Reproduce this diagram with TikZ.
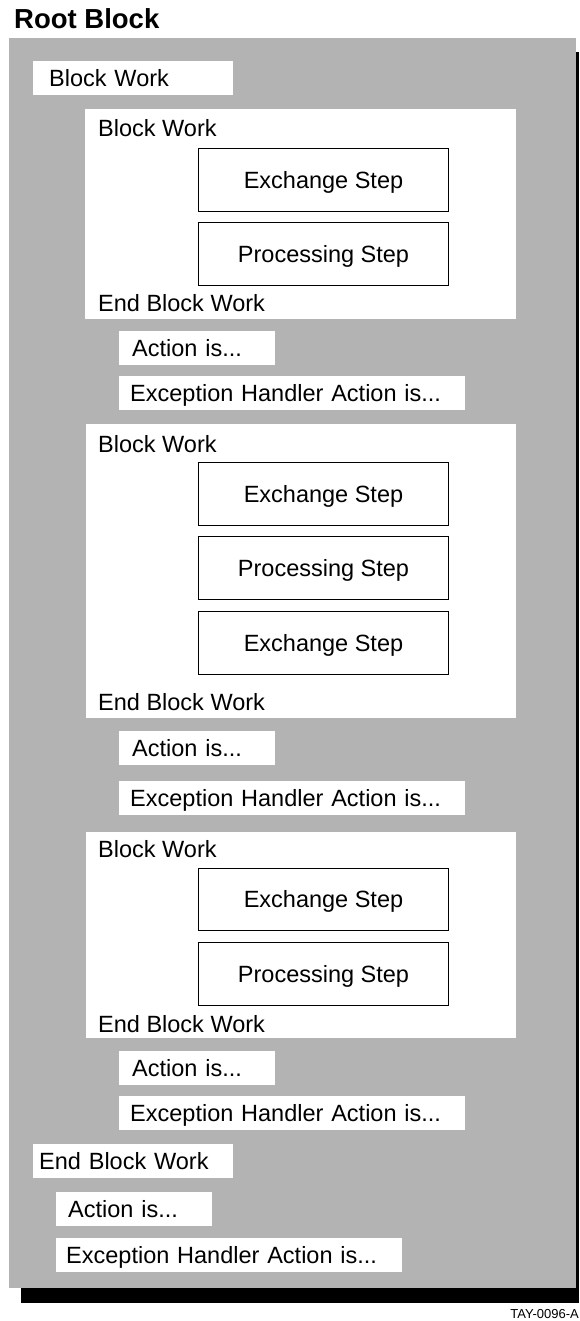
\documentclass[tikz,border=0pt]{standalone}
\usepackage{fontspec}
\setmainfont{Liberation Sans}
\definecolor{panelgray}{RGB}{179,179,179}
\begin{document}
\begin{tikzpicture}[x=1pt,y=-1pt,
  body/.style={font=\fontsize{23.5}{28}\selectfont, text height=16.8pt, text depth=0pt},
  wbox/.style={body, fill=white, draw=none, anchor=north west, inner ysep=0pt, align=left, minimum height=34pt},
  container/.style={fill=white, draw=none, anchor=north west, inner sep=0pt},
  stepbox/.style={body, fill=white, draw=black, line width=1pt, anchor=north west, inner sep=0pt, minimum width=250pt, align=center},
  lbl/.style={body, anchor=base west, inner sep=0pt}
]
\useasboundingbox (0,0) rectangle (579,1321);
% title
\node[font=\bfseries\fontsize{27.5}{32}\selectfont, anchor=base west, inner sep=0pt] (title) at (14,28.7) {Root Block};
% shadow and panel
\fill[black] (21,52) rectangle (579,1303);
\node[fill=panelgray, anchor=north west, inner sep=0pt, minimum width=567pt, minimum height=1250pt] (root) at (9,38) {};

% outer Block Work
\node[wbox, text width=168pt, inner xsep=16pt] (bw0) at (33,61) {Block Work};

% ---- block 1
\node[container, minimum width=431pt, minimum height=210pt] (blk1) at (85,109) {};
\node[lbl] (blk1t) at (98,137) {Block Work};
\node[stepbox, minimum height=63pt] (ex1) at (198,148) {Exchange Step};
\node[stepbox, minimum height=63pt] (pr1) at (198,222) {Processing Step};
\node[lbl] (blk1e) at (98,312) {End Block Work};
\node[wbox, text width=130pt, inner xsep=13pt] (ac1) at (119,331) {Action is...};
\node[wbox, text width=324pt, inner xsep=11pt] (eh1) at (119,376) {Exception Handler Action is...};

% ---- block 2
\node[container, minimum width=430pt, minimum height=294pt] (blk2) at (86,424) {};
\node[lbl] (blk2t) at (98,452) {Block Work};
\node[stepbox, minimum height=63pt] (ex2) at (198,462) {Exchange Step};
\node[stepbox, minimum height=63pt] (pr2) at (198,536) {Processing Step};
\node[stepbox, minimum height=63pt] (ex2b) at (198,611) {Exchange Step};
\node[lbl] (blk2e) at (98,710) {End Block Work};
\node[wbox, text width=130pt, inner xsep=13pt] (ac2) at (119,731) {Action is...};
\node[wbox, text width=324pt, inner xsep=11pt] (eh2) at (119,781) {Exception Handler Action is...};

% ---- block 3
\node[container, minimum width=430pt, minimum height=206pt] (blk3) at (86,832) {};
\node[lbl] (blk3t) at (98,857) {Block Work};
\node[stepbox, minimum height=62pt] (ex3) at (198,868) {Exchange Step};
\node[stepbox, minimum height=63pt] (pr3) at (198,942) {Processing Step};
\node[lbl] (blk3e) at (98,1032) {End Block Work};
\node[wbox, text width=130pt, inner xsep=13pt] (ac3) at (119,1051) {Action is...};
\node[wbox, text width=324pt, inner xsep=11pt] (eh3) at (119,1096) {Exception Handler Action is...};

% outer end
\node[wbox, text width=188pt, inner xsep=6pt] (ebw0) at (33,1144) {End Block Work};
\node[wbox, text width=132pt, inner xsep=12pt] (ac0) at (56,1192) {Action is...};
\node[wbox, text width=326pt, inner xsep=10pt] (eh0) at (56,1238) {Exception Handler Action is...};

% figure id
\node[font=\fontsize{13}{15}\selectfont, anchor=base east, inner sep=0pt] (figid) at (579,1318) {TAY-0096-A};
\end{tikzpicture}
\end{document}
